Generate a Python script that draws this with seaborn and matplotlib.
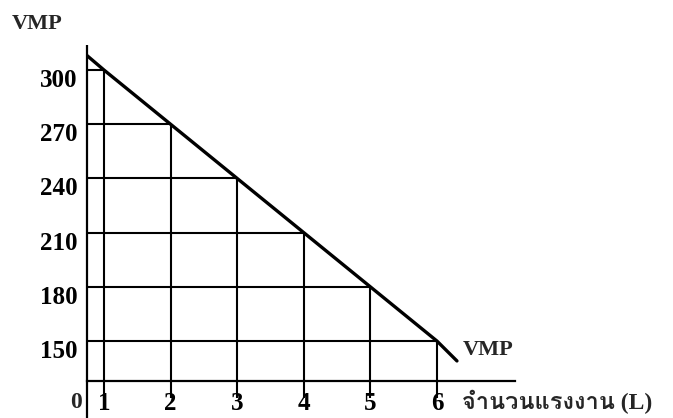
import matplotlib
matplotlib.use("Agg")
import matplotlib.pyplot as plt
import seaborn as sns
import pandas as pd
from matplotlib import font_manager, ft2font
from matplotlib.transforms import ScaledTranslation

# ---- data ----
labour = [1, 2, 3, 4, 5, 6]
vmp = [300, 270, 240, 210, 180, 150]
line_labour = [0.745, 1, 2, 3, 4, 5, 6, 6.3]
line_vmp = [308, 300, 270, 240, 210, 180, 150, 139]
y_ticks = [150, 180, 210, 240, 270, 300]
x_ticks = [1, 2, 3, 4, 5, 6]
x_origin = 0.745
y_origin = 127.9
x_label = "จำนวนแรงงาน (L)"
y_label = "VMP"
curve_label = "VMP"

sns.set_theme(style="white")

# find a font that can draw Thai
thai_fonts = []
for f in font_manager.fontManager.ttflist:
    try:
        cm = ft2font.FT2Font(f.fname).get_charmap()
    except Exception:
        continue
    if 0x0E08 in cm and 0x0E33 in cm:
        thai_fonts.append(f)
thai_name = None
if thai_fonts:
    bold = [f for f in thai_fonts if f.weight in ("bold", 700, "heavy", 800, 900)]
    thai_name = (bold or thai_fonts)[0].name
families = ["Liberation Serif"] + ([thai_name] if thai_name else []) + ["DejaVu Sans"]
plt.rcParams["font.family"] = families
plt.rcParams["font.weight"] = "bold"

fig = plt.figure(figsize=(6.73, 4.18), dpi=100)
ax = fig.add_axes([87 / 673, 37 / 418, 428 / 673, 336 / 418])

df = pd.DataFrame({"L": line_labour, "VMP": line_vmp})
sns.lineplot(data=df, x="L", y="VMP", ax=ax, color="black", lw=2.4, sort=False)

ax.set_xlim(x_origin, x_origin + 428 / 66.6)
ax.set_ylim(y_origin, y_origin + 336 / 1.807)

# guide lines
ax.hlines(vmp, x_origin, labour, color="black", lw=1.5)
ax.vlines(labour, 118.5, vmp, color="black", lw=1.5, clip_on=False)
# y axis running below the x axis
ax.vlines([x_origin], 107.4, y_origin + 336 / 1.807, color="black", lw=1.6, clip_on=False)

for s in ["top", "right", "left"]:
    ax.spines[s].set_visible(False)
ax.spines["bottom"].set_color("black")
ax.spines["bottom"].set_linewidth(1.6)

ax.set_xticks(x_ticks)
ax.set_xticklabels([str(v) for v in x_ticks])
ax.set_yticks(y_ticks)
ax.set_yticklabels([str(v) for v in y_ticks])
ax.tick_params(axis="both", length=0, labelsize=18, colors="black")
ax.tick_params(axis="y", pad=7)
ax.tick_params(axis="x", pad=8)
for lab in ax.get_yticklabels():
    lab.set_fontweight("bold")
    lab.set_transform(lab.get_transform() + ScaledTranslation(0, -0.08, fig.dpi_scale_trans))
for lab in ax.get_xticklabels():
    lab.set_fontweight("bold")

# origin label
ax.annotate("0", xy=(x_origin, y_origin), xytext=(-8, -8), textcoords="offset points",
            ha="center", va="top", fontsize=17, fontweight="bold")

ax.set_ylabel(y_label, rotation=0, fontsize=16, fontweight="bold", ha="center", va="center")
ax.yaxis.set_label_coords(-0.117, 1.0625)
ax.set_xlabel(x_label, fontsize=17, fontweight="bold", ha="left", va="center")
ax.xaxis.set_label_coords(0.876, -0.063)

ax.annotate(curve_label, xy=(line_labour[-1], line_vmp[-1]), xytext=(4, 8),
            textcoords="offset points", ha="left", va="center", fontsize=16, fontweight="bold")

fig.savefig("out.png", dpi=100, facecolor="white")
